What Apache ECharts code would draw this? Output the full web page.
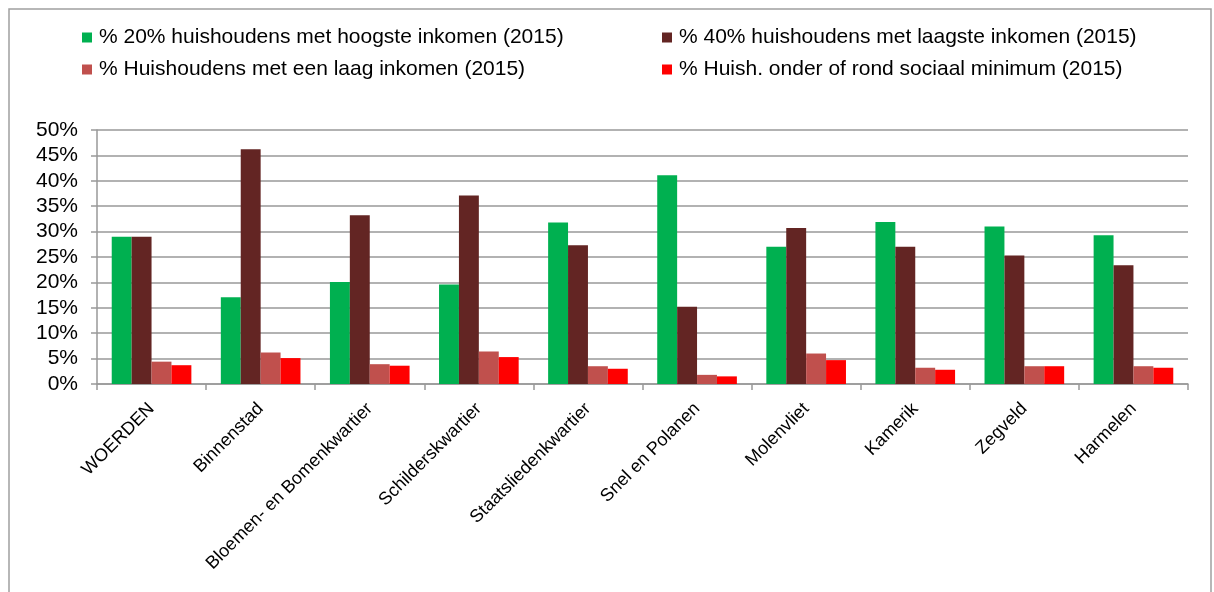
<!DOCTYPE html>
<html>
<head>
<meta charset="utf-8">
<script src="https://cdn.jsdelivr.net/npm/echarts@6/dist/echarts.min.js"></script>
<style>
html,body{margin:0;padding:0;background:#fff;}
#chart{width:1214px;height:592px;}
</style>
</head>
<body>
<div id="chart"></div>
<script>
const categories = ['WOERDEN','Binnenstad','Bloemen- en Bomenkwartier','Schilderskwartier','Staatsliedenkwartier','Snel en Polanen','Molenvliet','Kamerik','Zegveld','Harmelen'];
const seriesNames = [
  '% 20% huishoudens met hoogste inkomen (2015)',
  '% 40% huishoudens met laagste inkomen (2015)',
  '% Huishoudens met een laag inkomen (2015)',
  '% Huish. onder of rond sociaal minimum (2015)'
];
const hoogste20 = [29.0, 17.1, 20.1, 19.6, 31.8, 41.1, 27.0, 31.9, 31.0, 29.3];
const laagste40 = [29.0, 46.2, 33.2, 37.1, 27.3, 15.2, 30.7, 27.0, 25.3, 23.4];
const laagInkomen = [4.4, 6.2, 3.9, 6.4, 3.5, 1.8, 6.0, 3.2, 3.5, 3.5];
const sociaalMinimum = [3.7, 5.1, 3.6, 5.3, 3.0, 1.5, 4.7, 2.8, 3.5, 3.2];
const yTicks = [0, 5, 10, 15, 20, 25, 30, 35, 40, 45, 50];
const colors = ['#00B050', '#632523', '#C0504D', '#FF0000'];

const values = [hoogste20, laagste40, laagInkomen, sociaalMinimum];
const font = 'Liberation Sans, Arial, sans-serif';
const chart = echarts.init(document.getElementById('chart'));
const legendText = {fontFamily: font, fontSize: 21, color: '#000', lineHeight: 21, padding: [0, 0, 0, 2]};
chart.setOption({
  animation: false,
  color: colors,
  graphic: [{
    type: 'rect',
    shape: {x: 9, y: 9, width: 1202, height: 620},
    style: {fill: 'none', stroke: '#a0a0a0', lineWidth: 1.5},
    silent: true
  }],
  legend: [
    {data: [seriesNames[0], seriesNames[2]], orient: 'vertical', left: 82, top: 27, itemWidth: 10, itemHeight: 10, itemGap: 11, icon: 'rect', textStyle: legendText, padding: 0},
    {data: [seriesNames[1], seriesNames[3]], orient: 'vertical', left: 662, top: 27, itemWidth: 10, itemHeight: 10, itemGap: 11, icon: 'rect', textStyle: legendText, padding: 0}
  ],
  grid: {left: 97, right: 26, top: 130, bottom: 208, containLabel: false},
  xAxis: {
    type: 'category',
    data: categories,
    axisLine: {lineStyle: {color: '#999', width: 1.5}},
    axisTick: {show: true, length: 6, lineStyle: {color: '#999', width: 1.5}},
    axisLabel: {rotate: 45, interval: 0, margin: 22, fontFamily: font, fontSize: 18, color: '#000'}
  },
  yAxis: {
    type: 'value',
    min: 0, max: 50, interval: 5,
    axisLine: {show: true, lineStyle: {color: '#999', width: 1.5}},
    axisTick: {show: true, inside: false, length: 6, lineStyle: {color: '#999', width: 1.5}},
    axisLabel: {margin: 19, fontFamily: font, fontSize: 21, color: '#000',
      formatter: function (v) { return yTicks.indexOf(v) >= 0 ? v + '%' : ''; }},
    splitLine: {lineStyle: {color: '#999', width: 1.5}}
  },
  series: seriesNames.map(function (name, i) {
    return {
      name: name, type: 'bar', data: values[i],
      barGap: '0%', barCategoryGap: '27%',
      itemStyle: {color: colors[i]}
    };
  })
});
</script>
</body>
</html>
